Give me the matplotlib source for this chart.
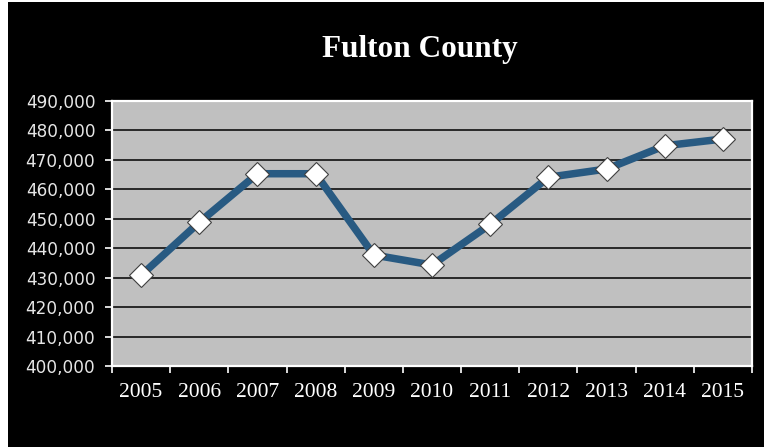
import matplotlib
matplotlib.use("Agg")
import matplotlib.pyplot as plt
from matplotlib.patches import Rectangle
import numpy as np

years = ["2005", "2006", "2007", "2008", "2009", "2010", "2011", "2012", "2013", "2014", "2015"]
population = [430800, 448800, 465300, 465300, 437700, 434300, 448100, 464100, 466900, 474800, 477100]
yticks = [400000, 410000, 420000, 430000, 440000, 450000, 460000, 470000, 480000, 490000]
title = "Fulton County"

W, H = 764, 447
fig = plt.figure(figsize=(W / 100, H / 100), dpi=100, facecolor="white")
# black background with thin white margin at left/top
fig.patches.append(Rectangle((8 / W, 0), 1 - 8 / W, 1 - 2 / H, transform=fig.transFigure,
                             facecolor="black", edgecolor="none", zorder=-10))

ax = fig.add_axes([112 / W, 1 - 366 / H, (752 - 112) / W, (366 - 101) / H])
ax.set_zorder(5)
ax.set_facecolor("#C0C0C0")

x = np.arange(len(years))
ax.plot(x, population, color="#285A82", lw=5.4, solid_joinstyle="round", zorder=3,
        marker="D", markersize=12, markerfacecolor="white", markeredgecolor="#404040",
        markeredgewidth=0.8)

ax.set_xlim(-0.5, len(years) - 0.5)
ax.set_ylim(yticks[0], yticks[-1])

ax.set_yticks(yticks)
ax.set_yticklabels([f"{v:,}" for v in yticks], fontfamily="DejaVu Sans", fontsize=12.2, color="#E6E6E6")
for v in yticks[1:-1]:
    ax.axhline(v, color="black", lw=1.1, zorder=1)

ax.set_xticks(np.arange(-0.5, len(years), 1.0))
ax.set_xticklabels([])
ax.set_xticks(x, minor=True)
ax.set_xticklabels(years, minor=True, fontfamily="Liberation Serif", fontsize=15.5, color="white")
ax.tick_params(axis="x", which="minor", length=0, pad=12)
ax.tick_params(axis="x", which="major", length=5, width=1.2, color="white", direction="out")
ax.tick_params(axis="y", length=5, width=1.2, color="white", direction="out", pad=7)

for s in ax.spines.values():
    s.set_color("white")
    s.set_linewidth(1.6)

t = fig.text(420 / W, 1 - 49 / H, title, ha="center", va="center", fontfamily="Liberation Serif",
             fontweight="bold", fontsize=22.5, color="white")
t.set_zorder(6)

fig.savefig("out.png", dpi=100, facecolor=fig.get_facecolor())
